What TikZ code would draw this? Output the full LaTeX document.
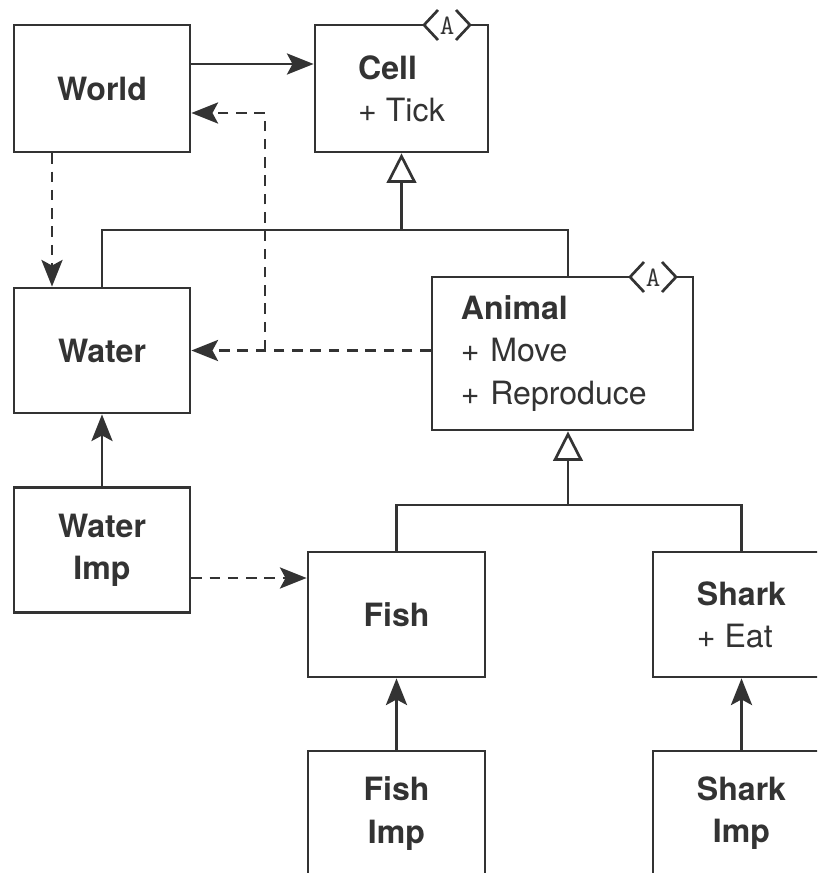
\documentclass[tikz,border=0pt]{standalone}
\usepackage{fontspec}
\setmainfont{TeX Gyre Heros}
\usepackage{tikz}
\usetikzlibrary{arrows.meta,positioning}
\definecolor{umlink}{RGB}{51,51,51}

\begin{document}
\begin{tikzpicture}[x=0.025cm, y=-0.025cm, line width=1.9pt, draw=umlink, text=umlink,
  cls/.style={draw=umlink, line width=1.9pt, fill=white, minimum width=4.4cm, minimum height=3.125cm, inner sep=0pt, align=center, font=\fontsize{22.8}{30}\selectfont},
  arr/.style={-{Stealth[length=19pt, width=15pt, inset=4pt]}, umlink, line width=1.9pt},
  dep/.style={arr, dash pattern=on 7.5pt off 5.5pt},
  gen/.style={-{Triangle[open, length=21pt, width=21pt, fill=white]}, umlink},
  abadge/.pic={
    \fill[white] (-23,0) -- (-9,-15) -- (9,-15) -- (23,0) -- (9,15) -- (-9,15) -- cycle;
    \draw[umlink, line width=1.9pt] (-9,-15) -- (-23,0) -- (-9,15);
    \draw[umlink, line width=1.9pt] (9,-15) -- (23,0) -- (9,15);
    \node[text=umlink, font=\ttfamily\fontsize{20}{20}\selectfont] at (0,1) {A};
  }]
  \useasboundingbox (0,0) rectangle (817,873);
  \clip (0,0) rectangle (817,873);

  % Top row
  \node[cls, minimum height=3.175cm] (world) at (102,88.5) {\textbf{World}};
  \node[cls, minimum width=4.325cm, minimum height=3.175cm, align=left] (cell) at (401.5,88.5) {\textbf{Cell}\\+ Tick};
  \pic at (447,25) {abadge};

  % Middle row
  \node[cls, minimum height=3.825cm, align=left, text width=5.075cm, inner xsep=0.725cm] (animal) at (562.5,353.5) {\textbf{Animal}\\+ Move\\+ Reproduce};
  \pic at (653,277) {abadge};
  \node[cls] (water) at (102,350.5) {\textbf{Water}};
  \node[cls] (wimp) at (102,550) {\textbf{Water}\\\textbf{Imp}};

  % Concrete animals
  \node[cls, minimum width=4.425cm] (fish) at (396.5,614.5) {\textbf{Fish}};
  \node[cls, minimum width=4.425cm, align=left] (shark) at (741.5,614.5) {\textbf{Shark}\\+ Eat};
  \node[cls, minimum width=4.425cm] (fimp) at (396.5,813.5) {\textbf{Fish}\\\textbf{Imp}};
  \node[cls, minimum width=4.425cm] (simp) at (741.5,813.5) {\textbf{Shark}\\\textbf{Imp}};

  \coordinate (bus1) at (568,230);
  \coordinate (bus2) at (568,505);

  % Inheritance
  \draw (water.north) |- (bus1) -- (bus1 |- animal.north);
  \draw[gen] (cell.south |- bus1) -- (cell.south);
  \draw (fish.north) |- (bus2) -| (shark.north);
  \draw[gen] (bus2) -- (bus2 |- animal.south);

  % Associations
  \draw[arr] (world.east |- 0,64) -- (cell.west |- 0,64);
  \draw[arr] (wimp.north) -- (water.south);
  \draw[arr] (fimp.north) -- (fish.south);
  \draw[arr] (simp.north) -- (shark.south);

  % Dependencies
  \draw[dep] (world.south -| 52,0) -- (water.north -| 52,0);
  \draw[dep] (animal.west |- water.east) -- (water.east);
  \draw[dep] (water.east -| 265,0) |- (world.east |- 0,113);
  \draw[dep] (wimp.east |- 0,578) -- (fish.west |- 0,578);
\end{tikzpicture}
\end{document}
